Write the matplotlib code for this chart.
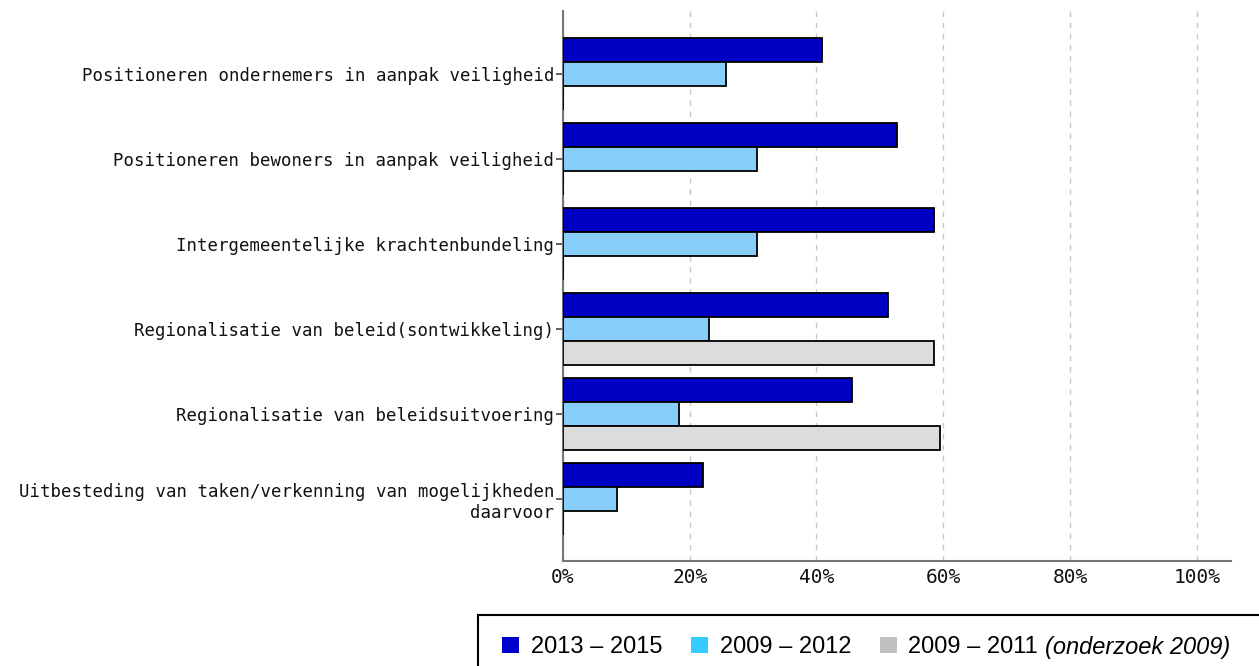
import matplotlib
matplotlib.use("Agg")
import matplotlib.pyplot as plt
import numpy as np
from matplotlib.patches import Patch, Rectangle

# data (percentages)
categories = [
    "Positioneren ondernemers in aanpak veiligheid",
    "Positioneren bewoners in aanpak veiligheid",
    "Intergemeentelijke krachtenbundeling",
    "Regionalisatie van beleid(sontwikkeling)",
    "Regionalisatie van beleidsuitvoering",
    "Uitbesteding van taken/verkenning van mogelijkheden\ndaarvoor",
]
p2013_2015 = [40.9, 52.7, 58.5, 51.2, 45.6, 22.1]
p2009_2012 = [25.7, 30.6, 30.6, 23.0, 18.3, 8.5]
p2009_2011 = [0, 0, 0, 58.5, 59.4, 0]
xticks = [0, 20, 40, 60, 80, 100]
xticklabels = ["0%", "20%", "40%", "60%", "80%", "100%"]
legend_labels = ["2013 – 2015", "2009 – 2012", "2009 – 2011"]
legend_note = "(onderzoek 2009)"

fig = plt.figure(figsize=(12.59, 6.66), dpi=100)
ax = fig.add_axes([0.447, 0.158, 0.531, 0.8255])

y = np.arange(len(categories))
h = 0.282
ax.barh(y - h, p2013_2015, height=h, color="#0000C4", edgecolor="black", linewidth=1.3, zorder=3)
ax.barh(y, p2009_2012, height=h, color="#87CEFA", edgecolor="black", linewidth=1.3, zorder=3)
ax.barh(y + h, p2009_2011, height=h, color="#DCDCDC", edgecolor="black", linewidth=1.3, zorder=3)

ax.set_ylim(5.73, -0.74)
ax.set_xlim(0, 105.4)
ax.set_yticks(y)
ax.set_yticklabels(categories, fontsize=12.5, family="DejaVu Sans Mono", color="#111111")
ax.set_xticks(xticks)
ax.set_xticklabels(xticklabels, fontsize=14, family="DejaVu Sans Mono", color="#111111")
ax.tick_params(axis="y", length=5, width=1.2, color="#444444", pad=1)
ax.tick_params(axis="x", length=0, pad=5)

ax.grid(axis="x", color="#C8C8C8", linestyle=(0, (4, 4)), linewidth=1, zorder=0)
for s in ["top", "right"]:
    ax.spines[s].set_visible(False)
ax.spines["left"].set_color("#777777")
ax.spines["bottom"].set_color("#777777")
ax.spines["left"].set_linewidth(1.5)
ax.spines["bottom"].set_linewidth(1.5)

# legend box runs off the right and bottom edges, so draw it as a plain rectangle
x0, ytop = 478 / 1259, 1 - 615 / 666
fig.patches.append(Rectangle((x0, -0.05), 1.1 - x0, ytop + 0.05, transform=fig.transFigure,
                             facecolor="white", edgecolor="black", linewidth=1.5, zorder=1))

handles = [Patch(facecolor="#0000CC", edgecolor="none"),
           Patch(facecolor="#33CCFF", edgecolor="none"),
           Patch(facecolor="#C0C0C0", edgecolor="none")]
leg = fig.legend(handles, legend_labels, loc="upper left", bbox_to_anchor=(x0 + 3 / 1259, ytop),
                 ncol=3, frameon=False, prop={"family": "Liberation Sans", "size": 17},
                 handlelength=0.72, handleheight=0.72, handletextpad=0.5, columnspacing=1.2,
                 borderpad=0.9, borderaxespad=0)

# italic note after the last legend label
fig.canvas.draw()
r = fig.canvas.get_renderer()
bb = leg.get_texts()[2].get_window_extent(r)
fig.text((bb.x1 + 7) / fig.bbox.width, (bb.y0 + bb.y1) / 2 / fig.bbox.height, legend_note,
         family="Liberation Sans", style="italic", size=17, va="center", ha="left", zorder=10)

fig.savefig("out.png", dpi=100)
